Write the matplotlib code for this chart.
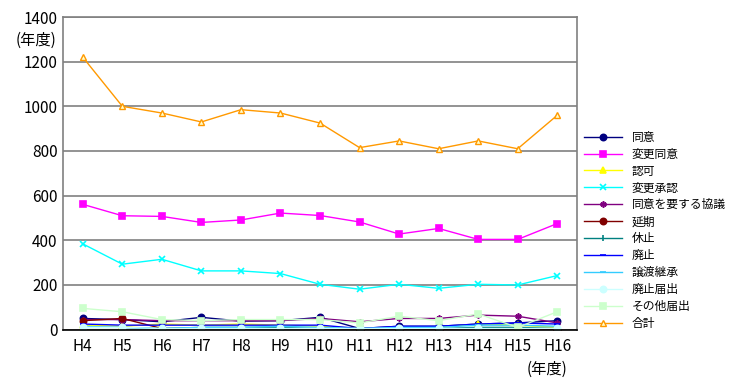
import matplotlib
matplotlib.use("Agg")
import matplotlib.pyplot as plt

plt.rcParams['font.family'] = ['Noto Sans CJK JP', 'DejaVu Sans']

years = ['H4', 'H5', 'H6', 'H7', 'H8', 'H9', 'H10', 'H11', 'H12', 'H13', 'H14', 'H15', 'H16']

doui = [50, 45, 35, 55, 38, 40, 55, 5, 15, 15, 25, 30, 40]
henkou_doui = [561, 510, 507, 480, 491, 522, 511, 482, 428, 453, 404, 404, 475]
ninka = [20, 15, 25, 20, 25, 20, 15, 5, 5, 10, 25, 20, 10]
henkou_shounin = [384, 293, 315, 263, 263, 251, 203, 181, 203, 185, 203, 200, 242]
kyougi = [45, 45, 40, 40, 40, 40, 50, 35, 50, 50, 65, 60, 30]
enki = [40, 50, 5, 5, 5, 5, 5, 0, 0, 0, 5, 5, 0]
kyuushi = [10, 10, 5, 10, 10, 10, 5, 5, 5, 5, 10, 10, 5]
haishi = [25, 20, 20, 20, 20, 20, 20, 5, 15, 15, 25, 30, 25]
jouto = [15, 10, 5, 10, 10, 15, 10, 5, 10, 10, 20, 20, 15]
haishi_todoke = [10, 10, 5, 5, 5, 5, 5, 5, 5, 5, 5, 5, 5]
sonota = [95, 80, 45, 40, 45, 45, 45, 30, 60, 40, 70, 10, 80]
goukei = [1220, 1000, 970, 930, 985, 970, 925, 815, 845, 810, 845, 810, 960]

series = [
    ('同意', doui, '#000080', 'o'),
    ('変更同意', henkou_doui, '#FF00FF', 's'),
    ('認可', ninka, '#FFFF00', '^'),
    ('変更承認', henkou_shounin, '#00FFFF', 'x'),
    ('同意を要する協議', kyougi, '#800080', (6, 2, 0)),
    ('延期', enki, '#800000', 'o'),
    ('休止', kyuushi, '#008080', '|'),
    ('廃止', haishi, '#0000FF', '_'),
    ('譲渡継承', jouto, '#33CCFF', '_'),
    ('廃止届出', haishi_todoke, '#CCFFFF', 'o'),
    ('その他届出', sonota, '#CCFFCC', 's'),
    ('合計', goukei, '#FF9900', '^'),
]

fig = plt.figure(figsize=(7.46, 3.78), dpi=100)
ax = fig.add_axes([0.0845, 0.128, 0.689, 0.827])

x = list(range(len(years)))
for name, vals, color, mk in series:
    if name == '合計':
        ax.plot(x, vals, color=color, lw=1, marker=mk, ms=5, mfc='#FFFFCC',
                mec=color, mew=1, label=name)
    else:
        ax.plot(x, vals, color=color, lw=1, marker=mk, ms=4.5, mew=1.2, label=name)

ax.set_xlim(-0.5, 12.5)
ax.set_ylim(0, 1400)
ax.set_yticks(range(0, 1401, 200))
ax.set_xticks(x)
ax.set_xticklabels(years, fontsize=11)
ax.tick_params(axis='y', labelsize=11, length=0, pad=4)
ax.tick_params(axis='x', length=0, pad=6)
ax.yaxis.grid(True, color='#808080', lw=1.2)
ax.set_axisbelow(True)
for s in ['left', 'right', 'top']:
    ax.spines[s].set_color('#808080')
    ax.spines[s].set_linewidth(1.2)
ax.spines['bottom'].set_color('black')
ax.spines['bottom'].set_linewidth(1.2)

fig.text(0.048, 0.893, '(年度)', fontsize=11, ha='center', va='center')
fig.text(0.733, 0.022, '(年度)', fontsize=11, ha='center', va='center')

ax.legend(loc='center left', bbox_to_anchor=(1.005, 0.318), frameon=False,
          fontsize=8.5, handlelength=3.2, labelspacing=0.33, handletextpad=0.8,
          borderaxespad=0)

fig.savefig('out.png', dpi=100)
